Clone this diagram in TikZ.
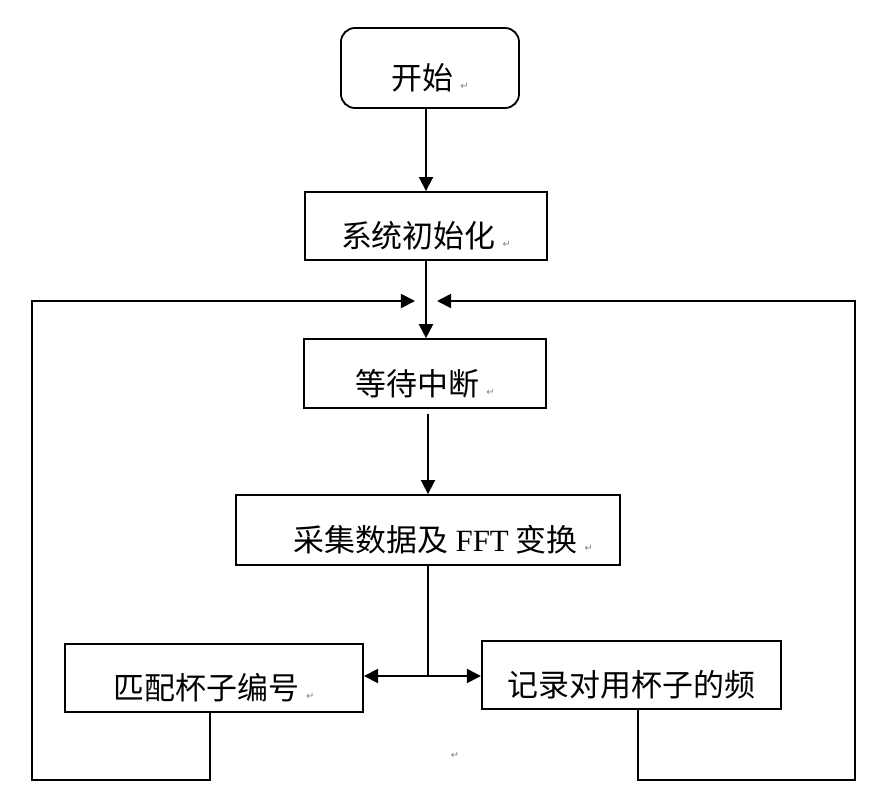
\documentclass[tikz,border=0pt]{standalone}
\usepackage{fontspec}
\setmainfont{Liberation Serif}
\newfontfamily\cjk{Noto Sans CJK SC}
\newfontfamily\retfont{DejaVu Sans}
\usetikzlibrary{arrows.meta, positioning, calc}
\newcommand\retmark{\hspace{5pt}{\retfont\fontsize{7}{8}\selectfont\textcolor{gray}{↵}}}

\begin{document}
\begin{tikzpicture}[x=0.025cm, y=-0.025cm,
    box/.style={draw, line width=1.3pt, inner sep=0pt,
                text height=31pt, text depth=0pt,
                font=\cjk\fontsize{22}{26}\selectfont},
    ln/.style={line width=1.3pt},
    arr/.style={line width=1.3pt, -{Triangle[length=10pt,width=10pt]}}]
  \useasboundingbox (0,0) rectangle (880,802);

  % boxes
  \node[box,rounded corners=10pt,minimum width=4.45cm,minimum height=2cm]
       (start) at (430,68) {开始\retmark};
  \node[box,minimum width=6.05cm,minimum height=1.7cm]
       (init) at (426,226) {系统初始化\retmark};
  \node[box,minimum width=6.05cm,minimum height=1.72cm]
       (wait) at (425,373.5) {等待中断\retmark};
  \node[box,minimum width=9.6cm,minimum height=1.75cm]
       (fft) at (428,530) {\hspace{22pt}采集数据及 {\rmfamily FFT} 变换\retmark};
  \node[box,minimum width=7.45cm,minimum height=1.7cm]
       (match) at (214,678) {匹配杯子编号\retmark};
  \node[box,minimum width=7.48cm,minimum height=1.7cm]
       (record) at (631.5,675) {记录对用杯子的频};
  \node[inner sep=0pt,font=\retfont\fontsize{7}{8}\selectfont,text=gray]
       (endmark) at (455,755) {↵};

  % joins
  \coordinate (jL) at (415,301);
  \coordinate (jR) at (437,301);
  \coordinate (split) at (428,676);

  % main flow
  \draw[arr] (start.south -| init.north) -- (init.north);
  \draw[arr] (init.south) -- (init.south |- wait.north);
  \draw[arr,shorten <=3.5pt] (wait.south -| fft.north) -- (fft.north);
  \draw[ln] (fft.south) -- (split);
  \draw[arr] (split) -- (split -| match.east);
  \draw[arr] (split) -- (split -| record.west);

  % loops back
  \draw[arr] ([xshift=-3pt]match.south) |- (32,780) |- (jL);
  \draw[arr] ([xshift=4.6pt]record.south) |- (855,780) |- (jR);
\end{tikzpicture}
\end{document}
